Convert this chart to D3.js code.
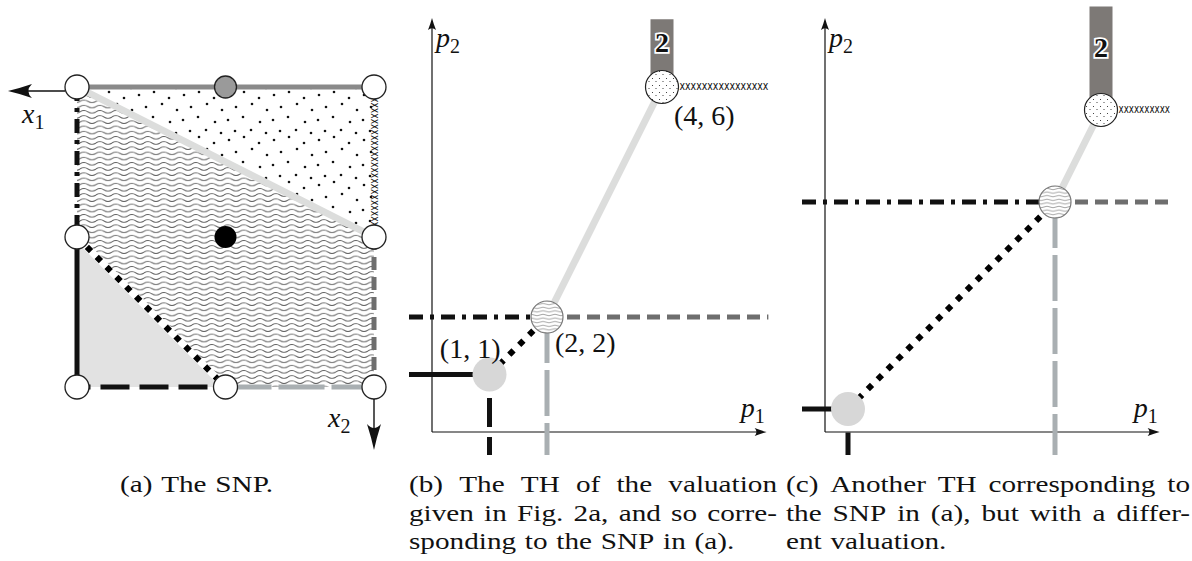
<!DOCTYPE html>
<html>
<head>
<meta charset="utf-8">
<title>SNP and tropical hypersurfaces</title>
<script src="https://cdn.jsdelivr.net/npm/d3@7/dist/d3.min.js"></script>
<style>
  body { margin: 0; background: #fff; }
  svg { display: block; }
  text { font-family: "Liberation Serif", "Tinos", "Times New Roman", Times, serif; fill: #111; }
</style>
</head>
<body>
<div id="figure"></div>
<script>
(function() {
  // ---------- data ----------
  // (a) the subdivision of the square, grid units, x to the right, y downwards
  var snpVertices = [[0,0],[1,0],[2,0],[0,1],[2,1],[0,2],[1,2],[2,2]];
  var snpVertexKind = ["open","marked","open","open","open","open","open","open"];
  var snpInterior = [[1,1]];
  var snpCells = [
    {kind:"dots",  corners:[[0,0],[2,0],[2,1]]},
    {kind:"waves", corners:[[0,0],[2,1],[2,2],[1,2],[0,1]]},
    {kind:"shade", corners:[[0,1],[1,2],[0,2]]}
  ];
  var snpEdges = [
    {from:[0,0], to:[2,1], kind:"lightGray"},
    {from:[0,0], to:[2,0], kind:"topGray"},
    {from:[0,0], to:[0,1], kind:"dashDot"},
    {from:[0,1], to:[0,2], kind:"solid"},
    {from:[0,2], to:[1,2], kind:"dashBlack"},
    {from:[1,2], to:[2,2], kind:"dashBlue"},
    {from:[2,1], to:[2,2], kind:"dashGray"},
    {from:[2,0], to:[2,1], kind:"cross"},
    {from:[0,1], to:[1,2], kind:"dotted"}
  ];

  // (b), (c): vertices of the tropical hypersurfaces in (p1, p2)
  var thVertexKind = ["shade","waves","dots"];
  var bVertices = [[1,1],[2,2],[4,6]];
  var bLabels = ["(1, 1)","(2, 2)","(4, 6)"];
  var cVertices = [[0.4,0.4],[4,4],[4.8,5.6]];
  var bReach = {left:-0.4, right:5.85, bottom:-0.4, top:7.18};
  var cReach = {left:-0.4, right:6.0, bottom:-0.4, top:7.4};
  var axisMax = [5.82, 7.2];
  var barWeight = "2";
  var thRays = [
    {vertex:0, dir:"left",  kind:"solid"},
    {vertex:0, dir:"down",  kind:"dashBlack"},
    {vertex:1, dir:"left",  kind:"dashDot"},
    {vertex:1, dir:"right", kind:"dashGray"},
    {vertex:1, dir:"down",  kind:"dashBlue"},
    {vertex:2, dir:"up",    kind:"bar"},
    {vertex:2, dir:"right", kind:"cross"}
  ];
  var thSegments = [
    {from:1, to:2, kind:"lightGray"},
    {from:0, to:1, kind:"dotted"}
  ];

  var captionA = ["(a) The SNP."];
  var captionB = ["(b) The TH of the valuation", "given in Fig. 2a, and so corre-", "sponding to the SNP in (a)."];
  var captionC = ["(c) Another TH corresponding to", "the SNP in (a), but with a differ-", "ent valuation."];

  // ---------- styles ----------
  var lineStyle = {
    solid:     {stroke:"#111",    width:5},
    dashBlack: {stroke:"#111",    width:5, dash:"29,10", offset:15.5},
    dashDot:   {stroke:"#111",    width:5, dash:"14,7,4,7"},
    dotted:    {stroke:"#000",    width:6, dash:"6,8"},
    dashGray:  {stroke:"#6e6e6e", width:5, dash:"13,7"},
    dashBlue:  {stroke:"#a9afb2", width:5, dash:"46,7"},
    lightGray: {stroke:"#dcdddc", width:7},
    topGray:   {stroke:"#8a8a8a", width:5},
    bar:       {stroke:"#7d7976", width:23}
  };

  var width = 1192, height = 561;
  var svg = d3.select("#figure").append("svg")
    .attr("width", width)
    .attr("height", height);
  var defs = svg.append("defs");

  // textures
  function wavePattern(id, w, h, amp, col, sw) {
    var p = defs.append("pattern").attr("id", id)
      .attr("patternUnits", "userSpaceOnUse").attr("width", w).attr("height", h);
    p.append("path")
      .attr("d", "M0," + h/2 + " Q" + w/4 + "," + (h/2 - amp*2) + " " + w/2 + "," + h/2 + " T" + w + "," + h/2)
      .attr("fill", "none").attr("stroke", col).attr("stroke-width", sw);
  }
  wavePattern("waves", 16, 5.2, 1.3, "#5f5f5f", 0.95);
  wavePattern("wavesSmall", 12, 3.6, 0.7, "#7a7a7a", 0.7);

  var dots = defs.append("pattern").attr("id", "dots")
    .attr("patternUnits", "userSpaceOnUse").attr("width", 45).attr("height", 45);
  [[4,5],[19,2],[34,8],[11,17],[27,14],[42,20],[3,30],[18,27],[35,32],[10,41],[26,40],[41,43]].forEach(function(d) {
    dots.append("circle").attr("cx", d[0]).attr("cy", d[1]).attr("r", 1.3).attr("fill", "#111");
  });
  var dotsSmall = defs.append("pattern").attr("id", "dotsSmall")
    .attr("patternUnits", "userSpaceOnUse").attr("width", 7).attr("height", 7);
  [[1.5,1.5],[5,4.5]].forEach(function(d) {
    dotsSmall.append("circle").attr("cx", d[0]).attr("cy", d[1]).attr("r", 0.55).attr("fill", "#222");
  });

  function arrowHead(g, tip, angle, len, half) {
    var d = "M0,0" +
      " Q" + (-len*0.45) + "," + (-half*0.35) + " " + (-len) + "," + (-half) +
      " Q" + (-len*0.7) + ",0 " + (-len) + "," + half +
      " Q" + (-len*0.45) + "," + (half*0.35) + " 0,0Z";
    g.append("path").attr("d", d)
      .attr("transform", "translate(" + tip[0] + "," + tip[1] + ")rotate(" + angle + ")")
      .attr("fill", "#111");
  }

  function styledLine(g, a, b, kind) {
    var st = lineStyle[kind];
    g.append("line")
      .attr("x1", a[0]).attr("y1", a[1]).attr("x2", b[0]).attr("y2", b[1])
      .attr("stroke", st.stroke).attr("stroke-width", st.width)
      .attr("stroke-dasharray", st.dash || null)
      .attr("stroke-dashoffset", st.offset || null);
  }

  // chain of small x's, from a along a horizontal or vertical run
  function crossChain(g, a, len, vertical) {
    var n = Math.max(1, Math.round(len / 5.4));
    g.append("text")
      .style("font-family", "DejaVu Sans")
      .style("font-size", "12px")
      .attr("x", 0).attr("y", 3.3)
      .attr("textLength", len).attr("lengthAdjust", "spacingAndGlyphs")
      .attr("transform", "translate(" + a[0] + "," + a[1] + ")" + (vertical ? "rotate(90)" : ""))
      .text(d3.range(n).map(function() { return "x"; }).join(""));
  }

  function mathLabel(g, x, y, base, sub, anchor) {
    var t = g.append("text").attr("x", x).attr("y", y)
      .attr("text-anchor", anchor || "start")
      .style("font-size", "28px");
    t.append("tspan").style("font-style", "italic").text(base);
    t.append("tspan").attr("dy", 6).style("font-size", "20px").text(sub);
  }

  // ---------- (a) the SNP ----------
  var xA = d3.scaleLinear().domain([0, 2]).range([77, 374]);
  var yA = d3.scaleLinear().domain([0, 2]).range([87, 387]);
  var pA = function(d) { return [xA(d[0]), yA(d[1])]; };
  var gA = svg.append("g");
  var rVertex = 12;

  var cellFill = {dots:"url(#dots)", waves:"url(#waves)", shade:"#e2e2e2"};
  gA.selectAll("path.cell").data(snpCells).enter().append("path")
    .attr("class", "cell")
    .attr("d", function(c) { return d3.line()(c.corners.map(pA)) + "Z"; })
    .attr("fill", function(c) { return cellFill[c.kind]; });

  snpEdges.forEach(function(e) {
    var a = pA(e.from), b = pA(e.to);
    if (e.kind === "cross") {
      crossChain(gA, [a[0], a[1] + rVertex - 2], b[1] - a[1] - 2*rVertex + 4, true);
      return;
    }
    if (e.kind === "dotted") {
      gA.append("line").attr("x1", a[0]).attr("y1", a[1]).attr("x2", b[0]).attr("y2", b[1])
        .attr("stroke", "#fff").attr("stroke-width", 7);
    }
    styledLine(gA, a, b, e.kind);
  });

  gA.selectAll("circle.vertex").data(snpVertices).enter().append("circle")
    .attr("class", "vertex")
    .attr("cx", function(d) { return xA(d[0]); })
    .attr("cy", function(d) { return yA(d[1]); })
    .attr("r", function(d, i) { return snpVertexKind[i] === "marked" ? 11 : rVertex; })
    .attr("fill", function(d, i) { return snpVertexKind[i] === "marked" ? "#9a9a9a" : "#fff"; })
    .attr("stroke", "#222").attr("stroke-width", 1.3);

  gA.selectAll("circle.inner").data(snpInterior).enter().append("circle")
    .attr("class", "inner")
    .attr("cx", function(d) { return xA(d[0]); })
    .attr("cy", function(d) { return yA(d[1]); })
    .attr("r", 11).attr("fill", "#000");

  // coordinate arrows x1 (to the left) and x2 (downwards)
  var arrY = yA(0) + 4, tip1 = xA(-0.465);
  gA.append("line").attr("x1", xA(0) - rVertex).attr("y1", arrY).attr("x2", tip1 + 10).attr("y2", arrY)
    .attr("stroke", "#111").attr("stroke-width", 1.4);
  arrowHead(gA, [tip1, arrY], 180, 24, 7);
  var tip2 = yA(2.42);
  gA.append("line").attr("x1", xA(2)).attr("y1", yA(2) + rVertex).attr("x2", xA(2)).attr("y2", tip2 - 10)
    .attr("stroke", "#111").attr("stroke-width", 1.4);
  arrowHead(gA, [xA(2), tip2], 90, 26, 7);
  mathLabel(gA, 22, 123, "x", "1");
  mathLabel(gA, 328, 427, "x", "2");

  // ---------- (b), (c) tropical hypersurfaces ----------
  function drawTH(g, x, y, verts, reach, labels) {
    // axes
    g.append("line").attr("x1", x(0)).attr("y1", y(0)).attr("x2", x(axisMax[0]) - 4).attr("y2", y(0))
      .attr("stroke", "#111").attr("stroke-width", 1.2);
    arrowHead(g, [x(axisMax[0]), y(0)], 0, 12, 4);
    g.append("line").attr("x1", x(0)).attr("y1", y(0)).attr("x2", x(0)).attr("y2", y(axisMax[1]) + 4)
      .attr("stroke", "#111").attr("stroke-width", 1.2);
    arrowHead(g, [x(0), y(axisMax[1])], -90, 12, 4);
    mathLabel(g, x(0) + 4, y(axisMax[1]) + 29, "p", "2");
    mathLabel(g, x(axisMax[0]) - 26, y(0) - 15, "p", "1");

    var P = function(d) { return [x(d[0]), y(d[1])]; };

    thSegments.forEach(function(s) {
      styledLine(g, P(verts[s.from]), P(verts[s.to]), s.kind);
    });

    var radius = [17, 16, 16.5];
    thRays.forEach(function(r) {
      var v = verts[r.vertex], a = P(v), b;
      if (r.dir === "left")  b = P([reach.left, v[1]]);
      if (r.dir === "right") b = P([reach.right, v[1]]);
      if (r.dir === "down")  b = P([v[0], reach.bottom]);
      if (r.dir === "up")    b = P([v[0], reach.top]);
      if (r.kind === "cross") {
        var start = a[0] + radius[r.vertex] + 1;
        crossChain(g, [start, a[1]], b[0] - start, false);
      } else if (r.dir === "left") {
        styledLine(g, b, a, r.kind);
      } else {
        styledLine(g, a, b, r.kind);
      }
      if (r.kind === "bar") {
        var midY = (b[1] + a[1] - radius[r.vertex]) / 2 - 3;
        g.append("text").attr("x", a[0]).attr("y", midY + 10)
          .attr("text-anchor", "middle")
          .style("font-size", "28px").style("font-weight", "bold")
          .style("fill", "#111").style("stroke", "#fff").style("stroke-width", "3.5px")
          .style("paint-order", "stroke")
          .text(barWeight);
      }
    });

    verts.forEach(function(v, i) {
      var c = P(v), kind = thVertexKind[i];
      if (kind === "shade") {
        g.append("circle").attr("cx", c[0]).attr("cy", c[1]).attr("r", radius[i]).attr("fill", "#d7d7d7");
      } else {
        g.append("circle").attr("cx", c[0]).attr("cy", c[1]).attr("r", radius[i]).attr("fill", "#fff");
        g.append("circle").attr("cx", c[0]).attr("cy", c[1]).attr("r", radius[i])
          .attr("fill", kind === "waves" ? "url(#wavesSmall)" : "url(#dotsSmall)")
          .attr("stroke", kind === "waves" ? "#777" : "#222").attr("stroke-width", 1.2);
      }
    });

    if (labels) {
      var anchor = ["end", "start", "start"], dx = [11, 8, 12], dy = [-17, 35, 38];
      labels.forEach(function(l, i) {
        var c = P(verts[i]);
        g.append("text").attr("x", c[0] + dx[i]).attr("y", c[1] + dy[i])
          .attr("text-anchor", anchor[i]).style("font-size", "28px").text(l);
      });
    }
  }

  var unit = 57.5;
  var xB = d3.scaleLinear().domain([0, 1]).range([432, 432 + unit]);
  var yB = d3.scaleLinear().domain([0, 1]).range([432, 432 - unit]);
  drawTH(svg.append("g"), xB, yB, bVertices, bReach, bLabels);

  var xC = d3.scaleLinear().domain([0, 1]).range([825, 825 + unit]);
  var yC = d3.scaleLinear().domain([0, 1]).range([432, 432 - unit]);
  drawTH(svg.append("g"), xC, yC, cVertices, cReach, null);

  // ---------- captions ----------
  var capG = svg.append("g");
  var capSize = 22.5, capLead = 28.5, capTop = 492, spaceEm = 0.3;

  function measureWords(words, yy) {
    var nodes = words.map(function(w) {
      return capG.append("text").attr("y", yy).style("font-size", capSize + "px").text(w);
    });
    var widths = nodes.map(function(n) { return n.node().getComputedTextLength(); });
    return {nodes: nodes, widths: widths};
  }
  // horizontal stretch so "(a) The SNP." spans its width in the reference
  var probe = measureWords(captionA[0].split(" "), -100);
  var capStretch = 153 / (d3.sum(probe.widths) + (probe.widths.length - 1) * spaceEm * capSize);
  probe.nodes.forEach(function(n) { n.remove(); });

  function caption(lines, left, right) {
    lines.forEach(function(line, i) {
      var words = line.split(" ");
      var m = measureWords(words, capTop + i * capLead);
      var widths = m.widths.map(function(w) { return w * capStretch; });
      var justify = i < lines.length - 1;
      var gap = justify ? (right - left - d3.sum(widths)) / (words.length - 1) : spaceEm * capSize * capStretch;
      var xx = left;
      m.nodes.forEach(function(n, k) {
        n.attr("x", xx).attr("textLength", widths[k]).attr("lengthAdjust", "spacingAndGlyphs");
        xx += widths[k] + gap;
      });
    });
  }
  caption(captionA, 120, 273);
  caption(captionB, 409, 777);
  caption(captionC, 786, 1190);
})();
</script>
</body>
</html>
